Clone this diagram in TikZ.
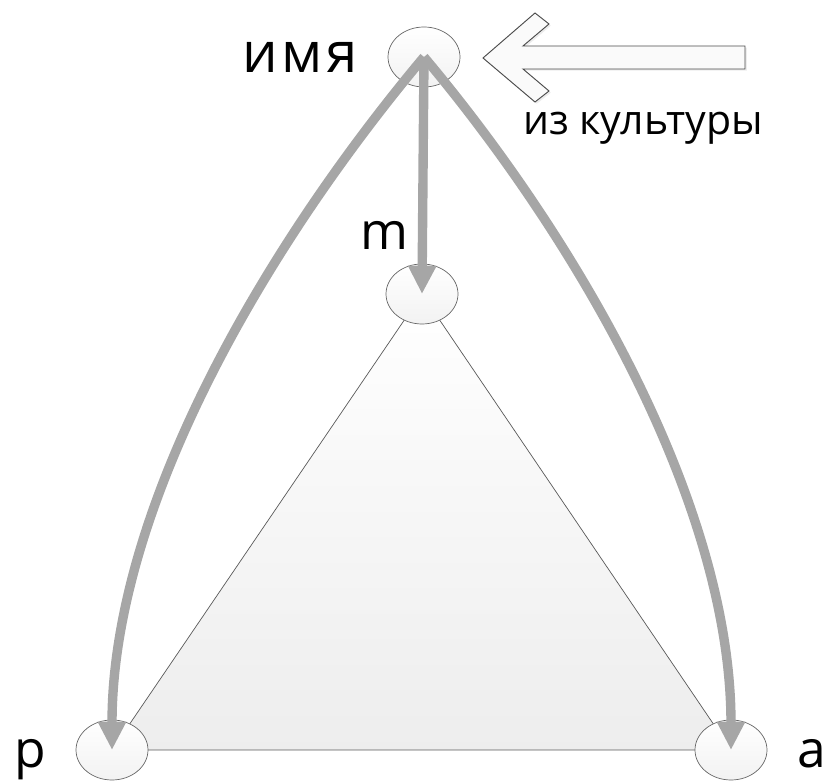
\documentclass[tikz,border=0pt]{standalone}
\usepackage{fontspec}
\setmainfont{Open Sans}
\newfontfamily\spaced{Open Sans}[LetterSpace=6]
\usetikzlibrary{arrows.meta,shapes.geometric,shadows}

\tikzset{
  vertex/.style={ellipse, draw=gray!80!black, line width=0.6pt, top color=white, bottom color=gray!10,
    minimum width=2.16cm, minimum height=1.8cm, inner sep=0pt},
  flow/.style={draw=black!35, line width=8pt,
    -{Triangle[length=0.85cm,width=0.8cm]}},
  lbl/.style={font=\fontsize{44}{50}\selectfont, inner sep=0pt, anchor=base},
}

\begin{document}
\begin{tikzpicture}[x=0.03cm, y=0.03cm]
\useasboundingbox (0,0) rectangle (831,782);

%the vertices
\node[vertex] (name) at (424, 725) {};
\coordinate (m) at (422, 488);
\coordinate (p) at (112, 32);
\coordinate (a) at (731, 32);

%the shaded triangle behind them
\draw[gray!70!black, line width=0.6pt, top color=white, bottom color=gray!14]
  (m) -- (p) -- (a) -- cycle;
\node[vertex] (mnode) at (m) {};
\node[vertex] (pnode) at (p) {};
\node[vertex] (anode) at (a) {};

%labels
\node[lbl, font=\fontsize{48}{54}\spaced, anchor=base east] (nametext) at (358, 709) {имя};
\node[lbl] (mtext) at (384, 532) {m};
\node[lbl] (ptext) at (30, 14) {p};
\node[lbl] (atext) at (812, 14) {a};
\node[font=\fontsize{35}{40}\selectfont, inner sep=0pt, anchor=base] (culture) at (643, 647) {из культуры};

%hollow arrow coming in from the right
\draw[gray!60!black, line width=0.8pt, fill=gray!4,
  drop shadow={opacity=0.15, shadow xshift=1.5pt, shadow yshift=-1.5pt}]
  (483,724) -- (535,769) -- (549,758) -- (523,736) -- (745,736)
  -- (745,713) -- (523,713) -- (549,691) -- (535,680) -- cycle;

%the gray arrows
\draw[flow] (name.center) -- (mnode.center);
\draw[flow] (name.center) to[out=230, in=90, looseness=0.82] (pnode.center);
\draw[flow] (name.center) to[out=310, in=90, looseness=0.82] (anode.center);

\end{tikzpicture}
\end{document}
